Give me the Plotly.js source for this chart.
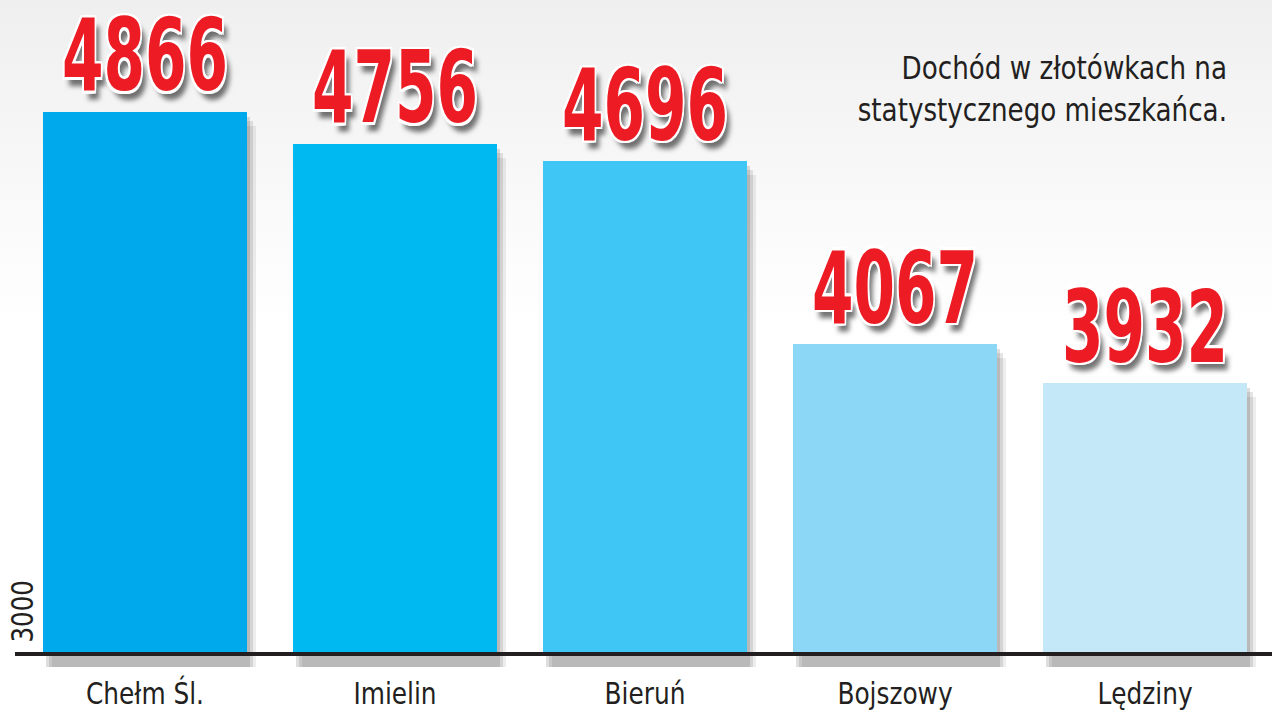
<!DOCTYPE html>
<html>
<head>
<meta charset="utf-8">
<script src="https://cdn.plot.ly/plotly-3.0.1.min.js"></script>
<style>
html,body{margin:0;padding:0;}
body{width:1272px;height:713px;overflow:hidden;
background:linear-gradient(to bottom,#efefef 0px,#f5f5f5 120px,#fbfbfb 240px,#ffffff 330px,#ffffff 713px);}
#chart{width:1272px;height:713px;}
</style>
</head>
<body>
<div id="chart"></div>
<script>
const categories = ["Chełm Śl.", "Imielin", "Bieruń", "Bojszowy", "Lędziny"];
const values = [4866, 4756, 4696, 4067, 3932];
const barColors = ["#00a9ec", "#00b9f1", "#40c6f4", "#8dd7f6", "#c5e8f8"];
const baseValue = 3000;
const titleText = "Dochód w złotówkach na<br>statystycznego mieszkańca.";

const NARROW = '"DejaVu Sans Condensed", "Liberation Sans Narrow", sans-serif';
const BW = 0.816;
const unitPerPx = 3.443;

const traces = [];
// soft shadow layers
[[3,0.13],[6,0.10],[9,0.07]].forEach(([px,op])=>{
  traces.push({
    type:'bar', x:categories,
    y:values.map(v=>v - baseValue + 45 - px*unitPerPx*1.5),
    base:baseValue - 45,
    width:BW, offset:-BW/2 + px/250,
    marker:{color:'rgba(0,0,0,'+op+')', line:{width:0}},
    hoverinfo:'skip', showlegend:false
  });
});
traces.push({
  type:'bar', x:categories,
  y:values.map(v=>v-baseValue), base:baseValue,
  width:BW,
  marker:{color:barColors, line:{width:0}},
  text:values.map(String), textposition:'outside', cliponaxis:false,
  textfont:{family:NARROW, size:96, color:'#ed1c24', weight:'bold',
    shadow:'2px 0 0 #fff, -2px 0 0 #fff, 0 2px 0 #fff, 0 -2px 0 #fff, 2px 2px 0 #fff, -2px -2px 0 #fff, 2px -2px 0 #fff, -2px 2px 0 #fff, 6px 7px 6px rgba(0,0,0,0.55)'},
  hoverinfo:'skip', showlegend:false
});

const layout = {
  width:1272, height:713,
  margin:{l:15, r:0, t:0, b:41},
  paper_bgcolor:'rgba(0,0,0,0)', plot_bgcolor:'rgba(0,0,0,0)',
  barmode:'overlay', bargap:0,
  xaxis:{type:'category', range:[-0.52,4.508], showline:false, showgrid:false, zeroline:false,
    ticks:'', tickfont:{family:NARROW, size:31, color:'#231f20'}, fixedrange:true},
  yaxis:{range:[2938,5252], showticklabels:false, showgrid:false, zeroline:false, showline:false, fixedrange:true},
  shapes:[{type:'line', xref:'paper', x0:0, x1:1, yref:'y', y0:baseValue, y1:baseValue,
    line:{color:'#231f20', width:4}, layer:'above'}],
  annotations:[
    {text:titleText, xref:'paper', x:0.966, xanchor:'right', yref:'paper', y:0.93, yanchor:'top',
     align:'right', showarrow:false, font:{family:NARROW, size:32, color:'#231f20'}},
    {text:String(baseValue), xref:'paper', x:0.0056, xanchor:'center', yref:'y', y:baseValue,
     yanchor:'bottom', yshift:9, textangle:-90, showarrow:false,
     font:{family:NARROW, size:31, color:'#231f20'}}
  ]
};

// condensed look: squeeze text glyphs horizontally (font substitute is wider than the original)
function squeeze(nodes, sx, sy, ax, ay, dy){
  nodes.forEach(t=>{
    const b = t.getBBox();
    const cx = ax==='right' ? b.x+b.width : ax==='left' ? b.x : b.x+b.width/2;
    const cy = ay==='bottom' ? b.y+b.height : ay==='top' ? b.y : b.y+b.height/2;
    const prev = t.getAttribute('transform') || '';
    t.setAttribute('transform', prev+' translate(0,'+(dy||0)+') translate('+cx+','+cy+') scale('+sx+','+sy+') translate('+(-cx)+','+(-cy)+')');
  });
}
Plotly.newPlot('chart', traces, layout, {displayModeBar:false, staticPlot:true}).then(gd=>{
  squeeze(gd.querySelectorAll('.bartext'), 0.815, 1.22, 'middle', 'bottom', 6);
  squeeze(gd.querySelectorAll('.xtick text'), 0.89, 1.0, 'middle', 'middle', 0);
  const ann = gd.querySelectorAll('.annotation-text');
  squeeze([ann[0]], 0.91, 1.0, 'right', 'middle', 0);
  squeeze([ann[1]], 0.88, 1.0, 'left', 'middle', 0);
});
</script>
</body>
</html>
